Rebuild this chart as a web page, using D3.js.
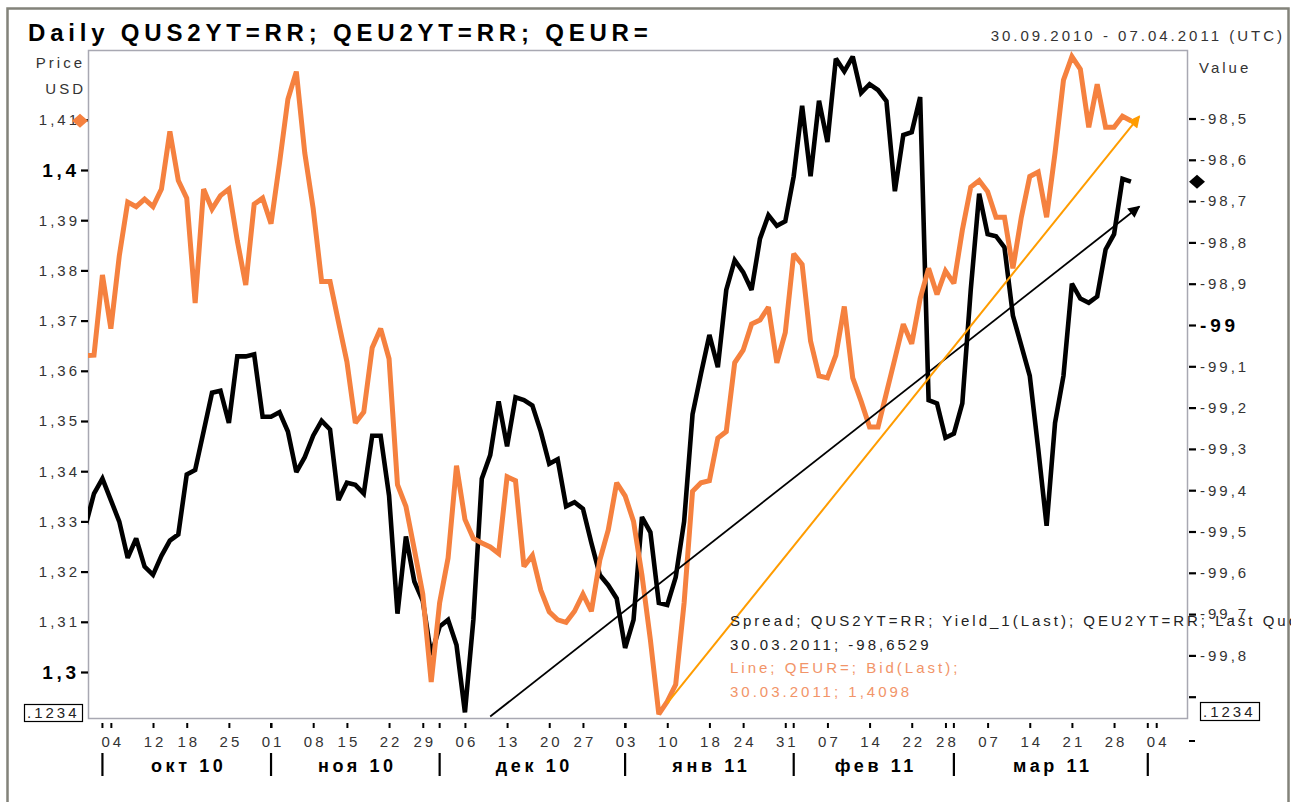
<!DOCTYPE html>
<html>
<head>
<meta charset="utf-8">
<script src="https://cdnjs.cloudflare.com/ajax/libs/d3/7.8.5/d3.min.js"></script>
<style>
  html, body { margin: 0; padding: 0; background: #fff; }
  svg text { font-family: "Liberation Sans", Arial, sans-serif; letter-spacing: 0.2em; }
</style>
</head>
<body>
<svg id="chart" width="1291" height="802"></svg>
<script>
// -------------------------------------------------------------------------
// Data

// trading calendar (bond market days)
const firstDay = '2010-09-29';
const lastDay = '2011-04-07';
const holidays = ['2010-10-11', '2010-11-11', '2010-11-25', '2010-12-24', '2011-01-17', '2011-02-21'];

// first trading day of each week -> labelled ticks
const weekTicks = [
  '2010-10-04', '2010-10-12', '2010-10-18', '2010-10-25', '2010-11-01', '2010-11-08', '2010-11-15',
  '2010-11-22', '2010-11-29', '2010-12-06', '2010-12-13', '2010-12-20', '2010-12-27', '2011-01-03',
  '2011-01-10', '2011-01-18', '2011-01-24', '2011-01-31', '2011-02-07', '2011-02-14', '2011-02-22',
  '2011-02-28', '2011-03-07', '2011-03-14', '2011-03-21', '2011-03-28', '2011-04-04'];
const monthStarts = ['2010-10-01', '2010-11-01', '2010-12-01', '2011-01-03', '2011-02-01', '2011-03-01', '2011-04-01'];
const monthLabels = ['окт 10', 'ноя 10', 'дек 10', 'янв 11', 'фев 11', 'мар 11'];

const priceTicks = [1.30, 1.31, 1.32, 1.33, 1.34, 1.35, 1.36, 1.37, 1.38, 1.39, 1.40, 1.41];
const valueTicks = [-99.9, -99.8, -99.7, -99.6, -99.5, -99.4, -99.3, -99.2, -99.1, -99.0,
  -98.9, -98.8, -98.7, -98.6, -98.5];

// QEUR= bid, daily 29.09.2010 .. 30.03.2011
const eurBid = [
  1.3630, 1.3631, 1.3791, 1.3684, 1.3829, 1.3936, 1.3927, 1.3942, 1.3927, 1.3962,
  1.4077, 1.3979, 1.3944, 1.3735, 1.3962, 1.3922, 1.3949, 1.3962, 1.3859, 1.3771,
  1.3932, 1.3944, 1.3893, 1.4013, 1.4141, 1.4196, 1.4034, 1.3923, 1.3778, 1.3778,
  1.3697, 1.3618, 1.3496, 1.3518, 1.3646, 1.3684, 1.3624, 1.3373, 1.3330, 1.3244,
  1.3155, 1.2980, 1.3138, 1.3227, 1.3411, 1.3304, 1.3266, 1.3257, 1.3249, 1.3236,
  1.3389, 1.3381, 1.3210, 1.3232, 1.3163, 1.3120, 1.3104, 1.3099, 1.3121, 1.3155,
  1.3121, 1.3223, 1.3283, 1.3377, 1.3351, 1.3300, 1.3193, 1.3064, 1.2916, 1.2941,
  1.2975, 1.3138, 1.3360, 1.3377, 1.3381, 1.3466, 1.3479, 1.3616, 1.3641, 1.3693,
  1.3701, 1.3727, 1.3616, 1.3676, 1.3833, 1.3812, 1.3659, 1.3590, 1.3586, 1.3631,
  1.3728, 1.3586, 1.3539, 1.3488, 1.3488, 1.3556, 1.3624, 1.3693, 1.3654, 1.3744,
  1.3804, 1.3752, 1.3799, 1.3774, 1.3880, 1.3966, 1.3979, 1.3957, 1.3906, 1.3906,
  1.3804, 1.3906, 1.3987, 1.3996, 1.3906, 1.4034, 1.4179, 1.4226, 1.4201, 1.4085,
  1.4171, 1.4085, 1.4085, 1.4107, 1.4098];

// QUS2YT=RR - QEU2YT=RR spread, same days
const spread = [
  -99.486, -99.408, -99.372, -99.424, -99.476, -99.564, -99.517, -99.585, -99.605, -99.559,
  -99.522, -99.507, -99.362, -99.351, -99.258, -99.164, -99.159, -99.237, -99.076, -99.076,
  -99.071, -99.222, -99.222, -99.211, -99.258, -99.356, -99.320, -99.268, -99.232, -99.253,
  -99.424, -99.382, -99.387, -99.408, -99.268, -99.268, -99.413, -99.699, -99.512, -99.621,
  -99.668, -99.799, -99.730, -99.714, -99.775, -99.938, -99.714, -99.372, -99.315, -99.185,
  -99.294, -99.175, -99.182, -99.195, -99.258, -99.336, -99.325, -99.439, -99.429, -99.445,
  -99.528, -99.605, -99.630, -99.662, -99.782, -99.714, -99.465, -99.502, -99.673, -99.678,
  -99.611, -99.476, -99.216, -99.118, -99.024, -99.102, -98.915, -98.843, -98.872, -98.915,
  -98.791, -98.734, -98.760, -98.749, -98.640, -98.469, -98.640, -98.457, -98.557, -98.355,
  -98.386, -98.350, -98.438, -98.417, -98.431, -98.458, -98.676, -98.540, -98.533, -98.448,
  -99.182, -99.190, -99.273, -99.263, -99.190, -98.915, -98.682, -98.780, -98.785, -98.812,
  -98.977, -99.050, -99.123, -99.299, -99.486, -99.237, -99.123, -98.900, -98.936, -98.946,
  -98.931, -98.817, -98.780, -98.646, -98.6529];

// hand-drawn trend arrows
const spreadTrend = [['2010-12-09', -99.948], ['2011-03-31', -98.713]];
const eurTrend = [['2011-01-10', 1.2938], ['2011-03-31', 1.4107]];

const legendLines = [
  'Spread; QUS2YT=RR; Yield_1(Last); QEU2YT=RR; Last Quote',
  '30.03.2011; -98,6529',
  'Line; QEUR=; Bid(Last);',
  '30.03.2011; 1,4098'];

// -------------------------------------------------------------------------
// Setup

const black = '#000';
const orange = '#f5813f';
const arrowOrange = '#ff9c00';
const plot = {left: 88, top: 50, right: 1187, bottom: 718};

const parse = d3.utcParse('%Y-%m-%d');
const fmt = d3.utcFormat('%Y-%m-%d');
const days = d3.utcDay.range(parse(firstDay), d3.utcDay.offset(parse(lastDay), 1))
  .filter((d) => d.getUTCDay() !== 0 && d.getUTCDay() !== 6 && !holidays.includes(fmt(d)))
  .map(fmt);
const pos = (s) => days.indexOf(s);

const x = d3.scaleLinear()
  .domain([pos('2010-09-30'), pos(lastDay)])
  .range([94, 1181.5]);
const xDay = d3.scaleOrdinal().domain(days).range(days.map((d) => x(pos(d))));
const yPrice = d3.scaleLinear().domain([1.3, 1.41]).range([672, 119.8]);
const yValue = d3.scaleLinear().domain([-99, -98.5]).range([325, 118.5]);

const ru = d3.formatLocale({decimal: ',', thousands: '\u00a0', grouping: [3], currency: ['', ''], minus: '-'});

const svg = d3.select('#chart');

svg.append('rect')
  .attr('width', 1291).attr('height', 802)
  .attr('fill', '#fff');

// outer window frame
svg.append('rect')
  .attr('x', 7.5).attr('y', 8.5)
  .attr('width', 1281).attr('height', 820)
  .attr('fill', 'none')
  .attr('stroke', '#83837a')
  .attr('stroke-width', 2.5);

svg.append('defs').append('clipPath')
  .attr('id', 'plot-clip')
  .append('rect')
  .attr('x', plot.left).attr('y', plot.top)
  .attr('width', plot.right - plot.left).attr('height', plot.bottom - plot.top);

const marker = (id, color) => {
  svg.select('defs').append('marker')
    .attr('id', id)
    .attr('viewBox', '0 0 10 10')
    .attr('refX', 9).attr('refY', 5)
    .attr('markerUnits', 'userSpaceOnUse')
    .attr('markerWidth', 15).attr('markerHeight', 12)
    .attr('orient', 'auto')
    .append('path')
    .attr('d', 'M0,0L10,5L0,10Z')
    .attr('fill', color);
};
marker('arrow-black', black);
marker('arrow-orange', arrowOrange);

// -------------------------------------------------------------------------
// Titles

svg.append('text')
  .attr('x', 28).attr('y', 41)
  .attr('font-size', 24).attr('font-weight', 'bold')
  .attr('fill', '#000')
  .text('Daily QUS2YT=RR; QEU2YT=RR; QEUR=');

svg.append('text')
  .attr('x', 1285).attr('y', 41)
  .attr('text-anchor', 'end')
  .attr('font-size', 15).attr('fill', '#333')
  .text('30.09.2010 - 07.04.2011 (UTC)');

svg.append('text')
  .attr('x', 85).attr('y', 68)
  .attr('text-anchor', 'end')
  .attr('font-size', 15).attr('fill', '#333')
  .text('Price');
svg.append('text')
  .attr('x', 86).attr('y', 94)
  .attr('text-anchor', 'end')
  .attr('font-size', 15).attr('fill', '#333')
  .text('USD');
svg.append('text')
  .attr('x', 1199).attr('y', 73)
  .attr('font-size', 15).attr('fill', '#333')
  .text('Value');

// plot frame
svg.append('rect')
  .attr('x', plot.left + 0.5).attr('y', plot.top + 0.5)
  .attr('width', plot.right - plot.left).attr('height', plot.bottom - plot.top)
  .attr('fill', '#fff')
  .attr('stroke', '#a8a8b2')
  .attr('stroke-width', 1.5);

// -------------------------------------------------------------------------
// Axes

const isMajorPrice = (v) => Math.abs(v * 10 - Math.round(v * 10)) < 1e-6;
const isMajorValue = (v) => Math.abs(v - Math.round(v)) < 1e-6;

const leftAxis = svg.append('g')
  .attr('transform', `translate(${plot.left},0)`)
  .call(d3.axisLeft(yPrice).tickValues(priceTicks).tickSize(7).tickPadding(1)
    .tickFormat(ru.format('.2~f')));

// lowest right tick label sits under the ".1234" box, only the tick shows
const rightAxis = svg.append('g')
  .attr('transform', `translate(${plot.right + 2},0)`)
  .call(d3.axisRight(yValue).tickValues(valueTicks).tickSize(7).tickPadding(4)
    .tickFormat((d) => d < -99.85 ? '' : ru.format('.1~f')(d)));

[[leftAxis, isMajorPrice], [rightAxis, isMajorValue]].forEach(([g, isMajor]) => {
  g.select('.domain').remove();
  g.selectAll('.tick line').attr('stroke', '#000').attr('stroke-width', 2.2);
  g.selectAll('.tick text')
    .attr('fill', (d) => isMajor(d) ? '#000' : '#333')
    .attr('font-family', null)
    .attr('font-size', (d) => isMajor(d) ? 19 : 15)
    .attr('font-weight', (d) => isMajor(d) ? 'bold' : 'normal');
});
rightAxis.selectAll('.tick text').attr('letter-spacing', (d) => isMajorValue(d) ? '0' : null);

// bottom axis: weekly ticks + month start ticks
const bottomAxis = svg.append('g')
  .attr('transform', `translate(0,${plot.bottom + 5})`)
  .call(d3.axisBottom(xDay).tickValues(weekTicks).tickSize(5).tickPadding(8)
    .tickFormat((d) => d3.utcFormat('%d')(parse(d))));
bottomAxis.select('.domain').remove();
bottomAxis.selectAll('.tick line').attr('stroke', '#000').attr('stroke-width', 2);
bottomAxis.selectAll('.tick text')
  .attr('font-family', null)
  .attr('font-size', 15)
  .attr('fill', '#333')
  .attr('dx', '0.1em');

svg.append('g')
  .selectAll('line')
  .data(monthStarts)
  .enter()
  .append('line')
  .attr('x1', (d) => xDay(d)).attr('x2', (d) => xDay(d))
  .attr('y1', plot.bottom + 5).attr('y2', plot.bottom + 10)
  .attr('stroke', '#000').attr('stroke-width', 2);

svg.append('g')
  .selectAll('line')
  .data(monthStarts)
  .enter()
  .append('line')
  .attr('x1', (d) => xDay(d)).attr('x2', (d) => xDay(d))
  .attr('y1', 753).attr('y2', 776)
  .attr('stroke', '#000').attr('stroke-width', 2.2);

svg.append('g')
  .selectAll('text')
  .data(monthLabels)
  .enter()
  .append('text')
  .attr('x', (d, i) => (xDay(monthStarts[i]) + xDay(monthStarts[i + 1])) / 2 + 2)
  .attr('y', 772)
  .attr('text-anchor', 'middle')
  .attr('font-size', 18).attr('font-weight', 'bold')
  .attr('fill', '#000')
  .text((d) => d);

// small dash right of the date axis
svg.append('line')
  .attr('x1', 1189).attr('x2', 1195)
  .attr('y1', 741).attr('y2', 741)
  .attr('stroke', '#000').attr('stroke-width', 2);

// -------------------------------------------------------------------------
// Series

const lines = svg.append('g').attr('clip-path', 'url(#plot-clip)');

const spreadLine = d3.line()
  .x((d, i) => x(i))
  .y((d) => yValue(d));
const eurLine = d3.line()
  .x((d, i) => x(i))
  .y((d) => yPrice(d));

lines.append('path')
  .datum(spread)
  .attr('d', spreadLine)
  .attr('fill', 'none')
  .attr('stroke', black)
  .attr('stroke-width', 4.6)
  .attr('stroke-linejoin', 'miter')
  .attr('stroke-miterlimit', 2.5);

lines.append('path')
  .datum(eurBid)
  .attr('d', eurLine)
  .attr('fill', 'none')
  .attr('stroke', orange)
  .attr('stroke-width', 5)
  .attr('stroke-linejoin', 'miter')
  .attr('stroke-miterlimit', 2.5);

// trend arrows
svg.append('line')
  .attr('x1', xDay(spreadTrend[0][0])).attr('y1', yValue(spreadTrend[0][1]))
  .attr('x2', xDay(spreadTrend[1][0])).attr('y2', yValue(spreadTrend[1][1]))
  .attr('stroke', black).attr('stroke-width', 1.8)
  .attr('marker-end', 'url(#arrow-black)');

svg.append('line')
  .attr('x1', xDay(eurTrend[0][0])).attr('y1', yPrice(eurTrend[0][1]))
  .attr('x2', xDay(eurTrend[1][0])).attr('y2', yPrice(eurTrend[1][1]))
  .attr('stroke', arrowOrange).attr('stroke-width', 2)
  .attr('marker-end', 'url(#arrow-orange)');

// last-value diamonds on the axes
const diamond = (cx, cy, color) => {
  svg.append('path')
    .attr('d', `M${cx - 8},${cy}L${cx},${cy - 7}L${cx + 8},${cy}L${cx},${cy + 7}Z`)
    .attr('fill', color);
};
diamond(plot.left - 8, yPrice(eurBid[eurBid.length - 1]), orange);
diamond(plot.right + 10, yValue(spread[spread.length - 1]), black);

// ".1234" precision boxes
[[24, 704, 58, 17], [1200, 702, 59, 18]].forEach(([bx, by, bw, bh]) => {
  svg.append('rect')
    .attr('x', bx + 0.5).attr('y', by + 0.5)
    .attr('width', bw).attr('height', bh)
    .attr('fill', '#fff').attr('stroke', '#000').attr('stroke-width', 1.2);
  svg.append('text')
    .attr('x', bx + 3).attr('y', by + bh - 3)
    .attr('font-size', 15).attr('fill', '#222')
    .text('.1234');
});

// -------------------------------------------------------------------------
// Legend

const legendColors = ['#222', '#222', '#f29468', '#f29468'];
svg.append('g')
  .selectAll('text')
  .data(legendLines)
  .enter()
  .append('text')
  .attr('x', 730)
  .attr('y', (d, i) => 626 + i * 23.5)
  .attr('font-size', 15)
  .attr('fill', (d, i) => legendColors[i])
  .text((d) => d);
</script>
</body>
</html>
